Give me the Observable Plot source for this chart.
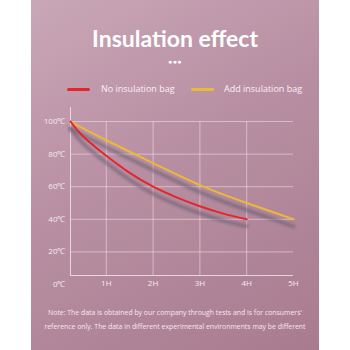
<!DOCTYPE html>
<html>
<head>
<meta charset="utf-8">
<script src="https://cdn.jsdelivr.net/npm/d3@7"></script>
<script src="https://cdn.jsdelivr.net/npm/@observablehq/plot@0.6"></script>
<style>
  html, body { margin: 0; padding: 0; background: #ffffff; }
  #wrap { position: relative; width: 350px; height: 350px; overflow: hidden; font-family: "Open Sans", "Noto Sans", sans-serif; }
  #panel { position: absolute; left: 31px; top: 0; width: 288px; height: 350px;
    background: linear-gradient(150deg, #c9a7b7 0%, #b88fa2 45%, #a97b8f 100%); }
  #title { position: absolute; left: 31px; width: 288px; top: 24px; text-align: center; color: #fff;
    font-family: "Lato", sans-serif; font-weight: 700; font-size: 23px; line-height: 28px; }
  #dots { position: absolute; left: 31px; width: 288px; top: 57px; text-align: center; color: #fff; font-size: 7px; line-height: 10px; letter-spacing: 0.5px; }
  .leg { position: absolute; top: 82px; color: #fbeff5; font-size: 9px; white-space: nowrap; }
  .sw { position: absolute; height: 3px; border-radius: 2px; top: 88px; width: 23px; }
  #note { position: absolute; left: 31px; width: 288px; top: 306px; text-align: center; color: #f6e8ef; font-size: 6.9px; line-height: 14px; }
  #chart { position: absolute; left: 0; top: 0; }
</style>
</head>
<body>
<div id="wrap">
  <div id="panel"></div>
  <div id="title">Insulation effect</div>
  <div id="dots">●●●</div>
  <div id="legend"></div>
  <div id="chart"></div>
  <div id="note">Note: The data is obtained by our company through tests and is for consumers'<br>reference only. The data in different experimental environments may be different</div>
</div>
<script>
const seriesNames = ["No insulation bag", "Add insulation bag"];
const seriesColors = ["#e3262c", "#ebb93a"];
const redHours = [0.235, 0.5, 1, 1.5, 2, 2.5, 3, 3.5, 4];
const redTemps = [100, 91, 79, 68.5, 60, 53.5, 48, 43.5, 40];
const yellowHours = [0.235, 1, 2, 3, 4, 5];
const yellowTemps = [100, 88.5, 74.5, 61, 50, 40];
const xTicks = [1, 2, 3, 4, 5];
const xTickLabels = ["1H", "2H", "3H", "4H", "5H"];
const yTicks = [0, 20, 40, 60, 80, 100];
const yTickLabels = ["0℃", "20℃", "40℃", "60℃", "80℃", "100℃"];
const xGrid = [1, 2, 3, 4];
const yGrid = [20, 40, 60, 80, 100];
const xStart = 0.235, xEnd = 5, yBase = 5.5, yTop = 108.6;

const red = redHours.map((h, i) => ({h, t: redTemps[i]}));
const yellow = yellowHours.map((h, i) => ({h, t: yellowTemps[i]}));

// legend
const legend = document.getElementById("legend");
const legPos = [[67, 101], [191, 224]];
seriesNames.forEach((n, i) => {
  const sw = document.createElement("div");
  sw.className = "sw"; sw.style.left = legPos[i][0] + "px"; sw.style.background = seriesColors[i];
  legend.appendChild(sw);
  const tx = document.createElement("div");
  tx.className = "leg"; tx.style.left = legPos[i][1] + "px"; tx.textContent = n;
  legend.appendChild(tx);
});

const gridColor = "#f4e4ec";
const shadow = (data) => Plot.line(data, {x: "h", y: "t", curve: "natural", stroke: "#675c70", strokeOpacity: 0.65, strokeWidth: 3.5, dy: 7, imageFilter: "blur(1.6px)"});

const chart = Plot.plot({
  width: 350, height: 350,
  marginLeft: 59, marginRight: 57, marginTop: 107, marginBottom: 66,
  style: {background: "transparent", color: "#f6eaf0", fontFamily: "'Open Sans', sans-serif"},
  x: {domain: [0, 5], axis: null},
  y: {domain: [0, yTop], axis: null},
  marks: [
    Plot.ruleY(yGrid, {x1: xStart, x2: xEnd, stroke: gridColor, strokeOpacity: 0.55, strokeWidth: 1}),
    Plot.ruleX(xGrid, {y1: yBase, y2: 100, stroke: gridColor, strokeOpacity: 0.55, strokeWidth: 1}),
    Plot.ruleX([xStart], {y1: yBase, y2: yTop, stroke: gridColor, strokeOpacity: 0.85, strokeWidth: 1}),
    Plot.ruleY([yBase], {x1: xStart, x2: xEnd, stroke: gridColor, strokeOpacity: 0.85, strokeWidth: 1}),
    shadow(yellow),
    shadow(red),
    Plot.line(yellow, {x: "h", y: "t", curve: "natural", stroke: seriesColors[1], strokeWidth: 2}),
    Plot.line(red, {x: "h", y: "t", curve: "natural", stroke: seriesColors[0], strokeWidth: 2}),
    Plot.text(yTicks, {x: 0, y: d => d, text: (d, i) => yTickLabels[i], textAnchor: "end", dx: 6, fontSize: 8, fill: "#f6eaf0"}),
    Plot.text(xTicks, {x: d => d, y: 0, text: (d, i) => xTickLabels[i], dy: -1, fontSize: 8, fill: "#f6eaf0"})
  ]
});
document.getElementById("chart").appendChild(chart);
</script>
</body>
</html>
